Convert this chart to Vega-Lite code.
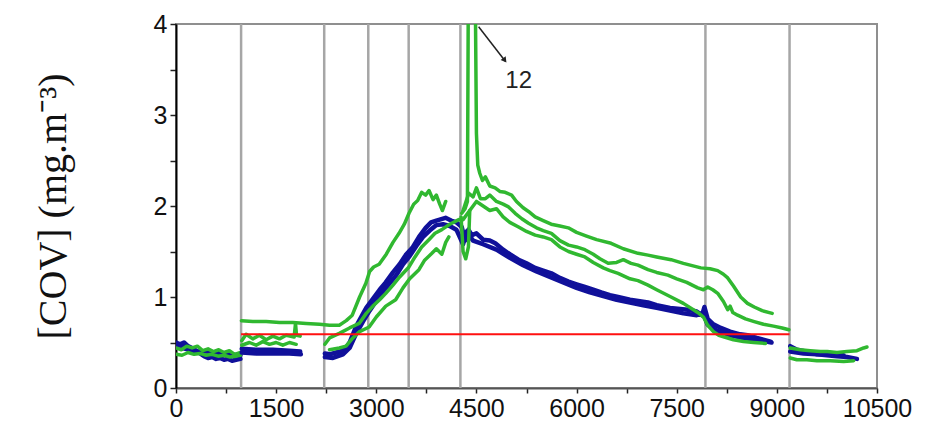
{
  "$schema": "https://vega.github.io/schema/vega-lite/v6.json",
  "width": 701,
  "height": 364,
  "autosize": "none",
  "padding": {"left": 176, "top": 24, "right": 53, "bottom": 40},
  "background": "white",
  "config": {"view": {"stroke": "#8f8f8f", "strokeWidth": 2}},
  "datasets": {
    "vlines": [{"x": 975}, {"x": 2220}, {"x": 2880}, {"x": 3485}, {"x": 4260}, {"x": 7930}, {"x": 9190}],
    "lines": [
      {"s": "a1", "c": "blue", "x": 0, "y": 0.50}, {"s": "a1", "c": "blue", "x": 60, "y": 0.48}, {"s": "a1", "c": "blue", "x": 120, "y": 0.50}, {"s": "a1", "c": "blue", "x": 180, "y": 0.46}, {"s": "a1", "c": "blue", "x": 240, "y": 0.44}, {"s": "a1", "c": "blue", "x": 300, "y": 0.41}, {"s": "a1", "c": "blue", "x": 360, "y": 0.38}, {"s": "a1", "c": "blue", "x": 420, "y": 0.35}, {"s": "a1", "c": "blue", "x": 480, "y": 0.33}, {"s": "a1", "c": "blue", "x": 540, "y": 0.34}, {"s": "a1", "c": "blue", "x": 600, "y": 0.32}, {"s": "a1", "c": "blue", "x": 660, "y": 0.33}, {"s": "a1", "c": "blue", "x": 720, "y": 0.31}, {"s": "a1", "c": "blue", "x": 780, "y": 0.32}, {"s": "a1", "c": "blue", "x": 840, "y": 0.30}, {"s": "a1", "c": "blue", "x": 900, "y": 0.31}, {"s": "a1", "c": "blue", "x": 965, "y": 0.32},
      {"s": "a2", "c": "blue", "x": 0, "y": 0.45}, {"s": "a2", "c": "blue", "x": 100, "y": 0.44}, {"s": "a2", "c": "blue", "x": 200, "y": 0.42}, {"s": "a2", "c": "blue", "x": 300, "y": 0.40}, {"s": "a2", "c": "blue", "x": 450, "y": 0.40}, {"s": "a2", "c": "blue", "x": 600, "y": 0.39}, {"s": "a2", "c": "blue", "x": 750, "y": 0.37}, {"s": "a2", "c": "blue", "x": 965, "y": 0.36},
      {"s": "a3", "c": "green", "x": 0, "y": 0.44}, {"s": "a3", "c": "green", "x": 80, "y": 0.42}, {"s": "a3", "c": "green", "x": 160, "y": 0.46}, {"s": "a3", "c": "green", "x": 240, "y": 0.44}, {"s": "a3", "c": "green", "x": 320, "y": 0.46}, {"s": "a3", "c": "green", "x": 400, "y": 0.41}, {"s": "a3", "c": "green", "x": 480, "y": 0.43}, {"s": "a3", "c": "green", "x": 560, "y": 0.40}, {"s": "a3", "c": "green", "x": 640, "y": 0.42}, {"s": "a3", "c": "green", "x": 720, "y": 0.39}, {"s": "a3", "c": "green", "x": 800, "y": 0.41}, {"s": "a3", "c": "green", "x": 880, "y": 0.37}, {"s": "a3", "c": "green", "x": 965, "y": 0.39},
      {"s": "a4", "c": "green", "x": 0, "y": 0.37}, {"s": "a4", "c": "green", "x": 90, "y": 0.36}, {"s": "a4", "c": "green", "x": 180, "y": 0.39}, {"s": "a4", "c": "green", "x": 270, "y": 0.37}, {"s": "a4", "c": "green", "x": 360, "y": 0.38}, {"s": "a4", "c": "green", "x": 450, "y": 0.36}, {"s": "a4", "c": "green", "x": 540, "y": 0.37}, {"s": "a4", "c": "green", "x": 630, "y": 0.35}, {"s": "a4", "c": "green", "x": 720, "y": 0.36}, {"s": "a4", "c": "green", "x": 810, "y": 0.34}, {"s": "a4", "c": "green", "x": 900, "y": 0.35}, {"s": "a4", "c": "green", "x": 965, "y": 0.36},
      {"s": "b4", "c": "blue", "x": 985, "y": 0.43}, {"s": "b4", "c": "blue", "x": 1200, "y": 0.42}, {"s": "b4", "c": "blue", "x": 1450, "y": 0.42}, {"s": "b4", "c": "blue", "x": 1700, "y": 0.41}, {"s": "b4", "c": "blue", "x": 1860, "y": 0.40},
      {"s": "b5", "c": "blue", "x": 985, "y": 0.39}, {"s": "b5", "c": "blue", "x": 1200, "y": 0.38}, {"s": "b5", "c": "blue", "x": 1450, "y": 0.38}, {"s": "b5", "c": "blue", "x": 1700, "y": 0.38}, {"s": "b5", "c": "blue", "x": 1870, "y": 0.37},
      {"s": "b2", "c": "green", "x": 985, "y": 0.52}, {"s": "b2", "c": "green", "x": 1050, "y": 0.59}, {"s": "b2", "c": "green", "x": 1150, "y": 0.54}, {"s": "b2", "c": "green", "x": 1250, "y": 0.58}, {"s": "b2", "c": "green", "x": 1350, "y": 0.53}, {"s": "b2", "c": "green", "x": 1450, "y": 0.57}, {"s": "b2", "c": "green", "x": 1550, "y": 0.54}, {"s": "b2", "c": "green", "x": 1650, "y": 0.58}, {"s": "b2", "c": "green", "x": 1770, "y": 0.56}, {"s": "b2", "c": "green", "x": 1790, "y": 0.71}, {"s": "b2", "c": "green", "x": 1805, "y": 0.58}, {"s": "b2", "c": "green", "x": 1860, "y": 0.57},
      {"s": "b3", "c": "green", "x": 985, "y": 0.47}, {"s": "b3", "c": "green", "x": 1100, "y": 0.50}, {"s": "b3", "c": "green", "x": 1200, "y": 0.47}, {"s": "b3", "c": "green", "x": 1300, "y": 0.51}, {"s": "b3", "c": "green", "x": 1400, "y": 0.48}, {"s": "b3", "c": "green", "x": 1500, "y": 0.50}, {"s": "b3", "c": "green", "x": 1600, "y": 0.47}, {"s": "b3", "c": "green", "x": 1700, "y": 0.50}, {"s": "b3", "c": "green", "x": 1800, "y": 0.48},
      {"s": "b1", "c": "green", "x": 980, "y": 0.74}, {"s": "b1", "c": "green", "x": 1150, "y": 0.73}, {"s": "b1", "c": "green", "x": 1350, "y": 0.73}, {"s": "b1", "c": "green", "x": 1550, "y": 0.72}, {"s": "b1", "c": "green", "x": 1750, "y": 0.72}, {"s": "b1", "c": "green", "x": 1950, "y": 0.71}, {"s": "b1", "c": "green", "x": 2150, "y": 0.70}, {"s": "b1", "c": "green", "x": 2300, "y": 0.69}, {"s": "b1", "c": "green", "x": 2446, "y": 0.69}, {"s": "b1", "c": "green", "x": 2550, "y": 0.74}, {"s": "b1", "c": "green", "x": 2640, "y": 0.80}, {"s": "b1", "c": "green", "x": 2750, "y": 1.00}, {"s": "b1", "c": "green", "x": 2844, "y": 1.15}, {"s": "b1", "c": "green", "x": 2900, "y": 1.28}, {"s": "b1", "c": "green", "x": 2960, "y": 1.33}, {"s": "b1", "c": "green", "x": 3043, "y": 1.36}, {"s": "b1", "c": "green", "x": 3150, "y": 1.47}, {"s": "b1", "c": "green", "x": 3250, "y": 1.60}, {"s": "b1", "c": "green", "x": 3341, "y": 1.70}, {"s": "b1", "c": "green", "x": 3420, "y": 1.80}, {"s": "b1", "c": "green", "x": 3490, "y": 1.92}, {"s": "b1", "c": "green", "x": 3560, "y": 2.02}, {"s": "b1", "c": "green", "x": 3620, "y": 2.06}, {"s": "b1", "c": "green", "x": 3680, "y": 2.15}, {"s": "b1", "c": "green", "x": 3739, "y": 2.12}, {"s": "b1", "c": "green", "x": 3790, "y": 2.17}, {"s": "b1", "c": "green", "x": 3850, "y": 2.07}, {"s": "b1", "c": "green", "x": 3900, "y": 2.12}, {"s": "b1", "c": "green", "x": 3950, "y": 2.02}, {"s": "b1", "c": "green", "x": 3990, "y": 1.95}, {"s": "b1", "c": "green", "x": 4040, "y": 2.05},
      {"s": "c1", "c": "blue", "x": 2230, "y": 0.38}, {"s": "c1", "c": "blue", "x": 2300, "y": 0.37}, {"s": "c1", "c": "blue", "x": 2400, "y": 0.39}, {"s": "c1", "c": "blue", "x": 2500, "y": 0.41}, {"s": "c1", "c": "blue", "x": 2546, "y": 0.44}, {"s": "c1", "c": "blue", "x": 2600, "y": 0.50}, {"s": "c1", "c": "blue", "x": 2700, "y": 0.68}, {"s": "c1", "c": "blue", "x": 2790, "y": 0.80}, {"s": "c1", "c": "blue", "x": 2850, "y": 0.88}, {"s": "c1", "c": "blue", "x": 2950, "y": 0.98}, {"s": "c1", "c": "blue", "x": 3050, "y": 1.08}, {"s": "c1", "c": "blue", "x": 3142, "y": 1.16}, {"s": "c1", "c": "blue", "x": 3250, "y": 1.27}, {"s": "c1", "c": "blue", "x": 3350, "y": 1.36}, {"s": "c1", "c": "blue", "x": 3440, "y": 1.46}, {"s": "c1", "c": "blue", "x": 3540, "y": 1.54}, {"s": "c1", "c": "blue", "x": 3640, "y": 1.66}, {"s": "c1", "c": "blue", "x": 3740, "y": 1.76}, {"s": "c1", "c": "blue", "x": 3820, "y": 1.82}, {"s": "c1", "c": "blue", "x": 3900, "y": 1.84}, {"s": "c1", "c": "blue", "x": 4037, "y": 1.87}, {"s": "c1", "c": "blue", "x": 4120, "y": 1.84}, {"s": "c1", "c": "blue", "x": 4200, "y": 1.82}, {"s": "c1", "c": "blue", "x": 4280, "y": 1.77}, {"s": "c1", "c": "blue", "x": 4330, "y": 1.62}, {"s": "c1", "c": "blue", "x": 4380, "y": 1.74}, {"s": "c1", "c": "blue", "x": 4430, "y": 1.68}, {"s": "c1", "c": "blue", "x": 4500, "y": 1.70}, {"s": "c1", "c": "blue", "x": 4600, "y": 1.63}, {"s": "c1", "c": "blue", "x": 4700, "y": 1.62}, {"s": "c1", "c": "blue", "x": 4783, "y": 1.59}, {"s": "c1", "c": "blue", "x": 4900, "y": 1.52}, {"s": "c1", "c": "blue", "x": 5000, "y": 1.47}, {"s": "c1", "c": "blue", "x": 5131, "y": 1.41}, {"s": "c1", "c": "blue", "x": 5250, "y": 1.37}, {"s": "c1", "c": "blue", "x": 5380, "y": 1.32}, {"s": "c1", "c": "blue", "x": 5500, "y": 1.29}, {"s": "c1", "c": "blue", "x": 5623, "y": 1.26}, {"s": "c1", "c": "blue", "x": 5750, "y": 1.21}, {"s": "c1", "c": "blue", "x": 5880, "y": 1.17}, {"s": "c1", "c": "blue", "x": 6000, "y": 1.14}, {"s": "c1", "c": "blue", "x": 6125, "y": 1.11}, {"s": "c1", "c": "blue", "x": 6250, "y": 1.08}, {"s": "c1", "c": "blue", "x": 6370, "y": 1.05}, {"s": "c1", "c": "blue", "x": 6500, "y": 1.02}, {"s": "c1", "c": "blue", "x": 6622, "y": 1.00}, {"s": "c1", "c": "blue", "x": 6800, "y": 0.97}, {"s": "c1", "c": "blue", "x": 7070, "y": 0.94}, {"s": "c1", "c": "blue", "x": 7200, "y": 0.91}, {"s": "c1", "c": "blue", "x": 7400, "y": 0.88}, {"s": "c1", "c": "blue", "x": 7666, "y": 0.86}, {"s": "c1", "c": "blue", "x": 7800, "y": 0.84}, {"s": "c1", "c": "blue", "x": 7880, "y": 0.80}, {"s": "c1", "c": "blue", "x": 7915, "y": 0.89}, {"s": "c1", "c": "blue", "x": 7964, "y": 0.76}, {"s": "c1", "c": "blue", "x": 8050, "y": 0.70}, {"s": "c1", "c": "blue", "x": 8160, "y": 0.66}, {"s": "c1", "c": "blue", "x": 8300, "y": 0.62}, {"s": "c1", "c": "blue", "x": 8450, "y": 0.59}, {"s": "c1", "c": "blue", "x": 8561, "y": 0.58}, {"s": "c1", "c": "blue", "x": 8700, "y": 0.55}, {"s": "c1", "c": "blue", "x": 8906, "y": 0.51},
      {"s": "c2", "c": "blue", "x": 2230, "y": 0.34}, {"s": "c2", "c": "blue", "x": 2350, "y": 0.33}, {"s": "c2", "c": "blue", "x": 2500, "y": 0.37}, {"s": "c2", "c": "blue", "x": 2600, "y": 0.44}, {"s": "c2", "c": "blue", "x": 2700, "y": 0.60}, {"s": "c2", "c": "blue", "x": 2800, "y": 0.73}, {"s": "c2", "c": "blue", "x": 2900, "y": 0.85}, {"s": "c2", "c": "blue", "x": 3000, "y": 0.96}, {"s": "c2", "c": "blue", "x": 3100, "y": 1.06}, {"s": "c2", "c": "blue", "x": 3200, "y": 1.15}, {"s": "c2", "c": "blue", "x": 3300, "y": 1.24}, {"s": "c2", "c": "blue", "x": 3400, "y": 1.36}, {"s": "c2", "c": "blue", "x": 3500, "y": 1.45}, {"s": "c2", "c": "blue", "x": 3600, "y": 1.56}, {"s": "c2", "c": "blue", "x": 3700, "y": 1.66}, {"s": "c2", "c": "blue", "x": 3800, "y": 1.73}, {"s": "c2", "c": "blue", "x": 3900, "y": 1.79}, {"s": "c2", "c": "blue", "x": 4000, "y": 1.80}, {"s": "c2", "c": "blue", "x": 4100, "y": 1.78}, {"s": "c2", "c": "blue", "x": 4200, "y": 1.74}, {"s": "c2", "c": "blue", "x": 4300, "y": 1.58}, {"s": "c2", "c": "blue", "x": 4350, "y": 1.72}, {"s": "c2", "c": "blue", "x": 4450, "y": 1.62}, {"s": "c2", "c": "blue", "x": 4600, "y": 1.58}, {"s": "c2", "c": "blue", "x": 4800, "y": 1.52}, {"s": "c2", "c": "blue", "x": 5000, "y": 1.43}, {"s": "c2", "c": "blue", "x": 5200, "y": 1.35}, {"s": "c2", "c": "blue", "x": 5400, "y": 1.28}, {"s": "c2", "c": "blue", "x": 5600, "y": 1.22}, {"s": "c2", "c": "blue", "x": 5800, "y": 1.16}, {"s": "c2", "c": "blue", "x": 6000, "y": 1.10}, {"s": "c2", "c": "blue", "x": 6200, "y": 1.05}, {"s": "c2", "c": "blue", "x": 6400, "y": 1.01}, {"s": "c2", "c": "blue", "x": 6600, "y": 0.97}, {"s": "c2", "c": "blue", "x": 6800, "y": 0.94}, {"s": "c2", "c": "blue", "x": 7000, "y": 0.91}, {"s": "c2", "c": "blue", "x": 7200, "y": 0.88}, {"s": "c2", "c": "blue", "x": 7400, "y": 0.85}, {"s": "c2", "c": "blue", "x": 7600, "y": 0.82}, {"s": "c2", "c": "blue", "x": 7800, "y": 0.80}, {"s": "c2", "c": "blue", "x": 7900, "y": 0.82}, {"s": "c2", "c": "blue", "x": 7960, "y": 0.70}, {"s": "c2", "c": "blue", "x": 8100, "y": 0.63}, {"s": "c2", "c": "blue", "x": 8300, "y": 0.58}, {"s": "c2", "c": "blue", "x": 8500, "y": 0.55}, {"s": "c2", "c": "blue", "x": 8700, "y": 0.53}, {"s": "c2", "c": "blue", "x": 8920, "y": 0.50},
      {"s": "c3", "c": "green", "x": 2230, "y": 0.48}, {"s": "c3", "c": "green", "x": 2300, "y": 0.55}, {"s": "c3", "c": "green", "x": 2446, "y": 0.60}, {"s": "c3", "c": "green", "x": 2600, "y": 0.66}, {"s": "c3", "c": "green", "x": 2744, "y": 0.71}, {"s": "c3", "c": "green", "x": 2850, "y": 0.82}, {"s": "c3", "c": "green", "x": 2950, "y": 0.90}, {"s": "c3", "c": "green", "x": 3050, "y": 0.97}, {"s": "c3", "c": "green", "x": 3142, "y": 1.04}, {"s": "c3", "c": "green", "x": 3250, "y": 1.13}, {"s": "c3", "c": "green", "x": 3350, "y": 1.22}, {"s": "c3", "c": "green", "x": 3490, "y": 1.33}, {"s": "c3", "c": "green", "x": 3580, "y": 1.44}, {"s": "c3", "c": "green", "x": 3680, "y": 1.55}, {"s": "c3", "c": "green", "x": 3788, "y": 1.63}, {"s": "c3", "c": "green", "x": 3880, "y": 1.70}, {"s": "c3", "c": "green", "x": 3982, "y": 1.74}, {"s": "c3", "c": "green", "x": 4100, "y": 1.80}, {"s": "c3", "c": "green", "x": 4236, "y": 1.85},
      {"s": "c4", "c": "green", "x": 2300, "y": 0.42}, {"s": "c4", "c": "green", "x": 2446, "y": 0.44}, {"s": "c4", "c": "green", "x": 2546, "y": 0.46}, {"s": "c4", "c": "green", "x": 2650, "y": 0.55}, {"s": "c4", "c": "green", "x": 2750, "y": 0.62}, {"s": "c4", "c": "green", "x": 2893, "y": 0.67}, {"s": "c4", "c": "green", "x": 3000, "y": 0.78}, {"s": "c4", "c": "green", "x": 3142, "y": 0.90}, {"s": "c4", "c": "green", "x": 3290, "y": 0.97}, {"s": "c4", "c": "green", "x": 3400, "y": 1.10}, {"s": "c4", "c": "green", "x": 3500, "y": 1.20}, {"s": "c4", "c": "green", "x": 3639, "y": 1.30}, {"s": "c4", "c": "green", "x": 3720, "y": 1.40}, {"s": "c4", "c": "green", "x": 3833, "y": 1.48}, {"s": "c4", "c": "green", "x": 3900, "y": 1.53}, {"s": "c4", "c": "green", "x": 3982, "y": 1.47}, {"s": "c4", "c": "green", "x": 4040, "y": 1.60}, {"s": "c4", "c": "green", "x": 4087, "y": 1.66},
      {"s": "c5", "c": "green", "x": 4270, "y": 1.88}, {"s": "c5", "c": "green", "x": 4300, "y": 1.50}, {"s": "c5", "c": "green", "x": 4340, "y": 1.42}, {"s": "c5", "c": "green", "x": 4380, "y": 1.55}, {"s": "c5", "c": "green", "x": 4400, "y": 1.95},
      {"s": "d1", "c": "green", "x": 4280, "y": 1.92}, {"s": "d1", "c": "green", "x": 4330, "y": 1.97}, {"s": "d1", "c": "green", "x": 4365, "y": 2.05}, {"s": "d1", "c": "green", "x": 4380, "y": 4.6}, {"s": "d1", "c": "green", "x": 4480, "y": 4.6}, {"s": "d1", "c": "green", "x": 4500, "y": 2.8}, {"s": "d1", "c": "green", "x": 4520, "y": 2.45}, {"s": "d1", "c": "green", "x": 4550, "y": 2.36}, {"s": "d1", "c": "green", "x": 4590, "y": 2.28}, {"s": "d1", "c": "green", "x": 4634, "y": 2.32}, {"s": "d1", "c": "green", "x": 4700, "y": 2.22}, {"s": "d1", "c": "green", "x": 4780, "y": 2.20}, {"s": "d1", "c": "green", "x": 4850, "y": 2.16}, {"s": "d1", "c": "green", "x": 4930, "y": 2.15}, {"s": "d1", "c": "green", "x": 5027, "y": 2.12}, {"s": "d1", "c": "green", "x": 5100, "y": 2.05}, {"s": "d1", "c": "green", "x": 5200, "y": 1.98}, {"s": "d1", "c": "green", "x": 5280, "y": 1.94}, {"s": "d1", "c": "green", "x": 5379, "y": 1.88}, {"s": "d1", "c": "green", "x": 5500, "y": 1.84}, {"s": "d1", "c": "green", "x": 5620, "y": 1.80}, {"s": "d1", "c": "green", "x": 5750, "y": 1.78}, {"s": "d1", "c": "green", "x": 5876, "y": 1.76}, {"s": "d1", "c": "green", "x": 6000, "y": 1.71}, {"s": "d1", "c": "green", "x": 6150, "y": 1.67}, {"s": "d1", "c": "green", "x": 6300, "y": 1.63}, {"s": "d1", "c": "green", "x": 6517, "y": 1.59}, {"s": "d1", "c": "green", "x": 6700, "y": 1.53}, {"s": "d1", "c": "green", "x": 6920, "y": 1.48}, {"s": "d1", "c": "green", "x": 7070, "y": 1.46}, {"s": "d1", "c": "green", "x": 7200, "y": 1.44}, {"s": "d1", "c": "green", "x": 7415, "y": 1.41}, {"s": "d1", "c": "green", "x": 7600, "y": 1.37}, {"s": "d1", "c": "green", "x": 7862, "y": 1.32}, {"s": "d1", "c": "green", "x": 8000, "y": 1.31}, {"s": "d1", "c": "green", "x": 8114, "y": 1.29}, {"s": "d1", "c": "green", "x": 8200, "y": 1.25}, {"s": "d1", "c": "green", "x": 8264, "y": 1.21}, {"s": "d1", "c": "green", "x": 8350, "y": 1.12}, {"s": "d1", "c": "green", "x": 8458, "y": 1.00}, {"s": "d1", "c": "green", "x": 8560, "y": 0.93}, {"s": "d1", "c": "green", "x": 8661, "y": 0.89}, {"s": "d1", "c": "green", "x": 8780, "y": 0.85}, {"s": "d1", "c": "green", "x": 8930, "y": 0.82},
      {"s": "d2", "c": "green", "x": 4300, "y": 1.95}, {"s": "d2", "c": "green", "x": 4385, "y": 2.14}, {"s": "d2", "c": "green", "x": 4450, "y": 2.10}, {"s": "d2", "c": "green", "x": 4500, "y": 2.20}, {"s": "d2", "c": "green", "x": 4560, "y": 2.08}, {"s": "d2", "c": "green", "x": 4634, "y": 2.08}, {"s": "d2", "c": "green", "x": 4700, "y": 2.12}, {"s": "d2", "c": "green", "x": 4800, "y": 2.05}, {"s": "d2", "c": "green", "x": 4900, "y": 2.02}, {"s": "d2", "c": "green", "x": 4981, "y": 1.99}, {"s": "d2", "c": "green", "x": 5080, "y": 1.92}, {"s": "d2", "c": "green", "x": 5180, "y": 1.86}, {"s": "d2", "c": "green", "x": 5280, "y": 1.81}, {"s": "d2", "c": "green", "x": 5400, "y": 1.76}, {"s": "d2", "c": "green", "x": 5500, "y": 1.73}, {"s": "d2", "c": "green", "x": 5623, "y": 1.70}, {"s": "d2", "c": "green", "x": 5750, "y": 1.62}, {"s": "d2", "c": "green", "x": 5880, "y": 1.57}, {"s": "d2", "c": "green", "x": 6000, "y": 1.55}, {"s": "d2", "c": "green", "x": 6125, "y": 1.52}, {"s": "d2", "c": "green", "x": 6250, "y": 1.47}, {"s": "d2", "c": "green", "x": 6350, "y": 1.42}, {"s": "d2", "c": "green", "x": 6473, "y": 1.37}, {"s": "d2", "c": "green", "x": 6600, "y": 1.38}, {"s": "d2", "c": "green", "x": 6700, "y": 1.41}, {"s": "d2", "c": "green", "x": 6816, "y": 1.37}, {"s": "d2", "c": "green", "x": 6920, "y": 1.35}, {"s": "d2", "c": "green", "x": 7070, "y": 1.30}, {"s": "d2", "c": "green", "x": 7200, "y": 1.27}, {"s": "d2", "c": "green", "x": 7368, "y": 1.24}, {"s": "d2", "c": "green", "x": 7500, "y": 1.20}, {"s": "d2", "c": "green", "x": 7650, "y": 1.16}, {"s": "d2", "c": "green", "x": 7815, "y": 1.10}, {"s": "d2", "c": "green", "x": 7900, "y": 1.08}, {"s": "d2", "c": "green", "x": 7964, "y": 1.11}, {"s": "d2", "c": "green", "x": 8040, "y": 1.08}, {"s": "d2", "c": "green", "x": 8114, "y": 1.04}, {"s": "d2", "c": "green", "x": 8200, "y": 0.95}, {"s": "d2", "c": "green", "x": 8264, "y": 0.86}, {"s": "d2", "c": "green", "x": 8300, "y": 0.90}, {"s": "d2", "c": "green", "x": 8340, "y": 0.83}, {"s": "d2", "c": "green", "x": 8412, "y": 0.80}, {"s": "d2", "c": "green", "x": 8530, "y": 0.76}, {"s": "d2", "c": "green", "x": 8661, "y": 0.73}, {"s": "d2", "c": "green", "x": 8800, "y": 0.70}, {"s": "d2", "c": "green", "x": 8950, "y": 0.68}, {"s": "d2", "c": "green", "x": 9080, "y": 0.66}, {"s": "d2", "c": "green", "x": 9180, "y": 0.64},
      {"s": "d3", "c": "green", "x": 4300, "y": 1.85}, {"s": "d3", "c": "green", "x": 4400, "y": 1.95}, {"s": "d3", "c": "green", "x": 4500, "y": 2.05}, {"s": "d3", "c": "green", "x": 4600, "y": 2.00}, {"s": "d3", "c": "green", "x": 4700, "y": 1.95}, {"s": "d3", "c": "green", "x": 4800, "y": 1.97}, {"s": "d3", "c": "green", "x": 4900, "y": 1.88}, {"s": "d3", "c": "green", "x": 5000, "y": 1.82}, {"s": "d3", "c": "green", "x": 5131, "y": 1.77}, {"s": "d3", "c": "green", "x": 5250, "y": 1.72}, {"s": "d3", "c": "green", "x": 5380, "y": 1.68}, {"s": "d3", "c": "green", "x": 5500, "y": 1.66}, {"s": "d3", "c": "green", "x": 5623, "y": 1.63}, {"s": "d3", "c": "green", "x": 5750, "y": 1.55}, {"s": "d3", "c": "green", "x": 5880, "y": 1.50}, {"s": "d3", "c": "green", "x": 6000, "y": 1.47}, {"s": "d3", "c": "green", "x": 6125, "y": 1.44}, {"s": "d3", "c": "green", "x": 6250, "y": 1.38}, {"s": "d3", "c": "green", "x": 6400, "y": 1.32}, {"s": "d3", "c": "green", "x": 6500, "y": 1.29}, {"s": "d3", "c": "green", "x": 6622, "y": 1.26}, {"s": "d3", "c": "green", "x": 6800, "y": 1.20}, {"s": "d3", "c": "green", "x": 6920, "y": 1.18}, {"s": "d3", "c": "green", "x": 7070, "y": 1.13}, {"s": "d3", "c": "green", "x": 7200, "y": 1.08}, {"s": "d3", "c": "green", "x": 7415, "y": 1.00}, {"s": "d3", "c": "green", "x": 7600, "y": 0.93}, {"s": "d3", "c": "green", "x": 7815, "y": 0.83}, {"s": "d3", "c": "green", "x": 7900, "y": 0.78}, {"s": "d3", "c": "green", "x": 7964, "y": 0.69}, {"s": "d3", "c": "green", "x": 8050, "y": 0.62}, {"s": "d3", "c": "green", "x": 8130, "y": 0.58}, {"s": "d3", "c": "green", "x": 8213, "y": 0.56}, {"s": "d3", "c": "green", "x": 8350, "y": 0.53}, {"s": "d3", "c": "green", "x": 8500, "y": 0.51}, {"s": "d3", "c": "green", "x": 8650, "y": 0.50}, {"s": "d3", "c": "green", "x": 8830, "y": 0.49},
      {"s": "e1", "c": "blue", "x": 9200, "y": 0.46}, {"s": "e1", "c": "blue", "x": 9300, "y": 0.42}, {"s": "e1", "c": "blue", "x": 9450, "y": 0.40}, {"s": "e1", "c": "blue", "x": 9605, "y": 0.37}, {"s": "e1", "c": "blue", "x": 9750, "y": 0.36}, {"s": "e1", "c": "blue", "x": 9900, "y": 0.35}, {"s": "e1", "c": "blue", "x": 10050, "y": 0.34}, {"s": "e1", "c": "blue", "x": 10200, "y": 0.32},
      {"s": "e2", "c": "blue", "x": 9200, "y": 0.40}, {"s": "e2", "c": "blue", "x": 9400, "y": 0.38}, {"s": "e2", "c": "blue", "x": 9600, "y": 0.37}, {"s": "e2", "c": "blue", "x": 9800, "y": 0.37}, {"s": "e2", "c": "blue", "x": 10000, "y": 0.36},
      {"s": "e3", "c": "green", "x": 9200, "y": 0.44}, {"s": "e3", "c": "green", "x": 9350, "y": 0.42}, {"s": "e3", "c": "green", "x": 9500, "y": 0.41}, {"s": "e3", "c": "green", "x": 9650, "y": 0.40}, {"s": "e3", "c": "green", "x": 9754, "y": 0.40}, {"s": "e3", "c": "green", "x": 9900, "y": 0.39}, {"s": "e3", "c": "green", "x": 10050, "y": 0.40}, {"s": "e3", "c": "green", "x": 10200, "y": 0.41}, {"s": "e3", "c": "green", "x": 10300, "y": 0.44}, {"s": "e3", "c": "green", "x": 10350, "y": 0.45},
      {"s": "e4", "c": "green", "x": 9200, "y": 0.33}, {"s": "e4", "c": "green", "x": 9300, "y": 0.31}, {"s": "e4", "c": "green", "x": 9450, "y": 0.31}, {"s": "e4", "c": "green", "x": 9600, "y": 0.30}, {"s": "e4", "c": "green", "x": 9800, "y": 0.30}, {"s": "e4", "c": "green", "x": 10000, "y": 0.29}, {"s": "e4", "c": "green", "x": 10150, "y": 0.30}
    ],
    "limit": [{"x": 975, "x2": 9190, "y": 0.59}],
    "arrow": [{"x": 4533, "y": 3.97, "x2": 4933, "y2": 3.59}],
    "head": [{"x": 4925, "y": 3.60}],
    "label": [{"x": 5132, "y": 3.37, "t": "12"}]
  },
  "encoding": {
    "x": {
      "field": "x", "type": "quantitative",
      "scale": {"domain": [0, 10500], "nice": false, "zero": false},
      "axis": {
        "values": [0, 750, 1500, 2250, 3000, 3750, 4500, 5250, 6000, 6750, 7500, 8250, 9000, 9750, 10500],
        "labelExpr": "datum.value % 1500 === 0 ? datum.label : ''",
        "format": "d",
        "title": null,
        "grid": false,
        "domainColor": "#555555",
        "domainWidth": 2,
        "tickColor": "#222222",
        "tickWidth": 1.5,
        "tickSize": 5,
        "labelFont": "Liberation Sans",
        "labelFontSize": 25,
        "labelColor": "#111111",
        "labelPadding": 3,
        "labelFlush": false,
        "labelOverlap": false
      }
    },
    "y": {
      "field": "y", "type": "quantitative",
      "scale": {"domain": [0, 4], "nice": false, "zero": false},
      "axis": {
        "values": [0, 0.5, 1, 1.5, 2, 2.5, 3, 3.5, 4],
        "format": "~g",
        "labelExpr": "datum.value % 1 === 0 ? datum.label : ''",
        "grid": false,
        "domainColor": "#000000",
        "domainWidth": 2,
        "tickColor": "#222222",
        "tickWidth": 1.5,
        "tickSize": 6,
        "labelFont": "Liberation Sans",
        "labelFontSize": 25,
        "labelColor": "#111111",
        "labelPadding": 3,
        "labelFlush": false,
        "labelOverlap": false,
        "title": "[COV] (mg.m⁻³)",
        "titleFont": "Liberation Serif",
        "titleFontSize": 40,
        "titleFontWeight": "normal",
        "titleColor": "#111111",
        "titleAngle": -90,
        "titleAlign": "center",
        "titleBaseline": "alphabetic",
        "titleX": -111,
        "titleY": 182
      }
    }
  },
  "layer": [
    {
      "data": {"name": "vlines"},
      "mark": {"type": "rule", "color": "#a6a6a6", "strokeWidth": 2.5},
      "encoding": {"y": null}
    },
    {
      "data": {"name": "lines"},
      "mark": {"type": "line", "clip": true, "strokeJoin": "round", "strokeCap": "round"},
      "encoding": {
        "detail": {"field": "s"},
        "color": {"field": "c", "type": "nominal", "scale": {"domain": ["blue", "green"], "range": ["#10109a", "#30b830"]}, "legend": null},
        "strokeWidth": {"field": "c", "type": "nominal", "scale": {"domain": ["blue", "green"], "range": [4.5, 3.5]}, "legend": null}
      }
    },
    {
      "data": {"name": "limit"},
      "mark": {"type": "rule", "color": "#ff1010", "strokeWidth": 2},
      "encoding": {"x2": {"field": "x2"}}
    },
    {
      "data": {"name": "arrow"},
      "mark": {"type": "rule", "color": "#222222", "strokeWidth": 1.5},
      "encoding": {"x2": {"field": "x2"}, "y2": {"field": "y2"}}
    },
    {
      "data": {"name": "head"},
      "mark": {"type": "point", "shape": "triangle-up", "filled": true, "color": "#222222", "size": 40, "angle": 143, "opacity": 1}
    },
    {
      "data": {"name": "label"},
      "mark": {"type": "text", "font": "Liberation Sans", "fontSize": 24, "color": "#222222", "align": "center", "baseline": "middle"},
      "encoding": {"text": {"field": "t"}}
    }
  ]
}
